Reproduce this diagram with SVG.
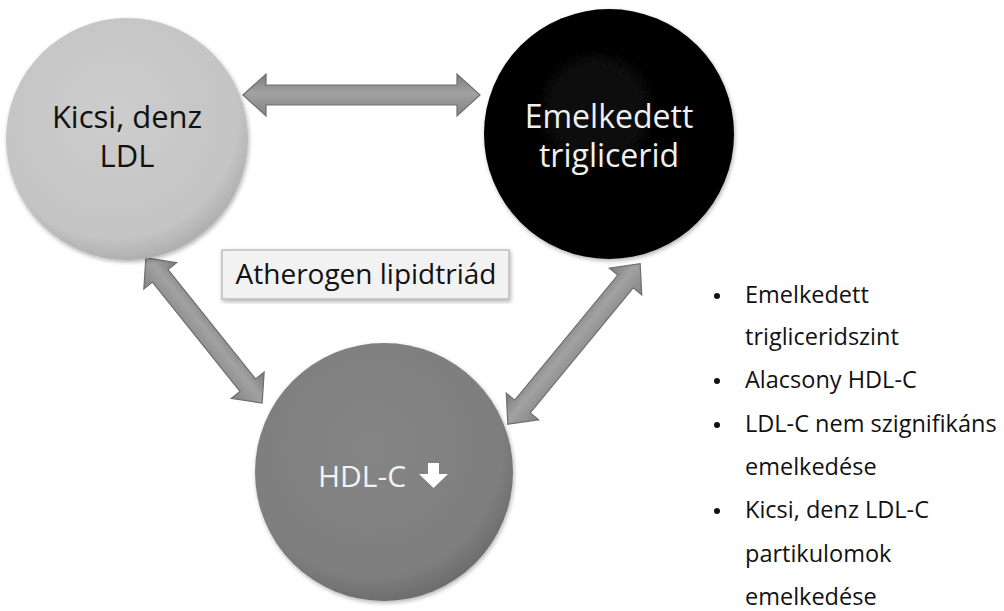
<svg xmlns="http://www.w3.org/2000/svg" width="1004" height="611" viewBox="0 0 1004 611">
<style>
.node-text{font-family:"Open Sans","Liberation Sans",sans-serif;text-anchor:middle}
.list{font-family:"Open Sans","Liberation Sans",sans-serif;font-size:23.5px;fill:#111}
.arrow{fill:url(#arrowGrad);stroke:#6e6e6e;stroke-width:1.2}
</style>
<defs>
<radialGradient id="g1" cx="0.45" cy="0.4" r="0.6"><stop offset="0" stop-color="#cdcdcd"/><stop offset="0.85" stop-color="#c4c4c4"/><stop offset="1" stop-color="#b0b0b0"/></radialGradient>
<radialGradient id="g2" cx="0.45" cy="0.4" r="0.6"><stop offset="0" stop-color="#0a0a0a"/><stop offset="1" stop-color="#000"/></radialGradient>
<radialGradient id="g3" cx="0.45" cy="0.4" r="0.6"><stop offset="0" stop-color="#858585"/><stop offset="0.85" stop-color="#7e7e7e"/><stop offset="1" stop-color="#6e6e6e"/></radialGradient>
<linearGradient id="arrowGrad" x1="0" y1="0" x2="0" y2="1"><stop offset="0" stop-color="#7a7a7a"/><stop offset="0.45" stop-color="#a2a2a2"/><stop offset="1" stop-color="#838383"/></linearGradient>
<filter id="sh" x="-10%" y="-10%" width="120%" height="120%"><feDropShadow dx="1" dy="2" stdDeviation="2" flood-opacity="0.3"/></filter>
</defs>
<rect width="1004" height="611" fill="#fff"/>
<g id="connectors">
<polygon class="arrow" points="243,95 266,74 266,85 457,85 457,74 480,95 457,116 457,105 266,105 266,116"/>
<polygon class="arrow" transform="translate(204,330.5) rotate(51.3)" points="-93,0 -70,-21 -70,-10 70,-10 70,-21 93,0 70,21 70,10 -70,10 -70,21"/>
<polygon class="arrow" transform="translate(574,344) rotate(-50.5)" points="-104,0 -81,-21 -81,-10 81,-10 81,-21 104,0 81,21 81,10 -81,10 -81,21"/>
</g>
<g id="node-ldl">
<circle cx="127" cy="139" r="121" fill="url(#g1)" filter="url(#sh)"/>
<text class="node-text" x="127" y="128" font-size="31" fill="#111">Kicsi, denz</text>
<text class="node-text" x="127" y="167" font-size="31" fill="#111">LDL</text>
</g>
<g id="node-tg">
<circle cx="609" cy="134" r="125" fill="url(#g2)" filter="url(#sh)"/>
<text class="node-text" x="609" y="128" font-size="32" fill="#f0f0f0">Emelkedett</text>
<text class="node-text" x="609" y="167" font-size="32" fill="#f0f0f0">triglicerid</text>
</g>
<g id="node-hdl">
<circle cx="384" cy="472" r="129" fill="url(#g3)" filter="url(#sh)"/>
<text class="node-text" x="362" y="487" font-size="30" fill="#f2f2f2">HDL-C</text>
<path d="M428,463 h11 v11 h9 l-14.5,14 l-14.5,-14 h9 z" fill="#fff"/>
</g>
<g id="label-box">
<rect x="222" y="250" width="287" height="49" fill="#f2f2f2" stroke="#bdbdbd" stroke-width="1.5" filter="url(#sh)"/>
<text x="366" y="284" font-family="Open Sans, Liberation Sans, sans-serif" font-size="28" text-anchor="middle" fill="#111">Atherogen lipidtriád</text>
</g>
<g id="bullet-list">
<circle cx="717" cy="296" r="3" fill="#111"/>
<circle cx="717" cy="381" r="3" fill="#111"/>
<circle cx="717" cy="425" r="3" fill="#111"/>
<circle cx="717" cy="511" r="3" fill="#111"/>
<text class="list" x="745" y="303">Emelkedett</text>
<text class="list" x="745" y="345">trigliceridszint</text>
<text class="list" x="745" y="388">Alacsony HDL-C</text>
<text class="list" x="745" y="432">LDL-C nem szignifikáns</text>
<text class="list" x="745" y="475">emelkedése</text>
<text class="list" x="745" y="518">Kicsi, denz LDL-C</text>
<text class="list" x="745" y="562">partikulomok</text>
<text class="list" x="745" y="605">emelkedése</text>
</g>
</svg>
